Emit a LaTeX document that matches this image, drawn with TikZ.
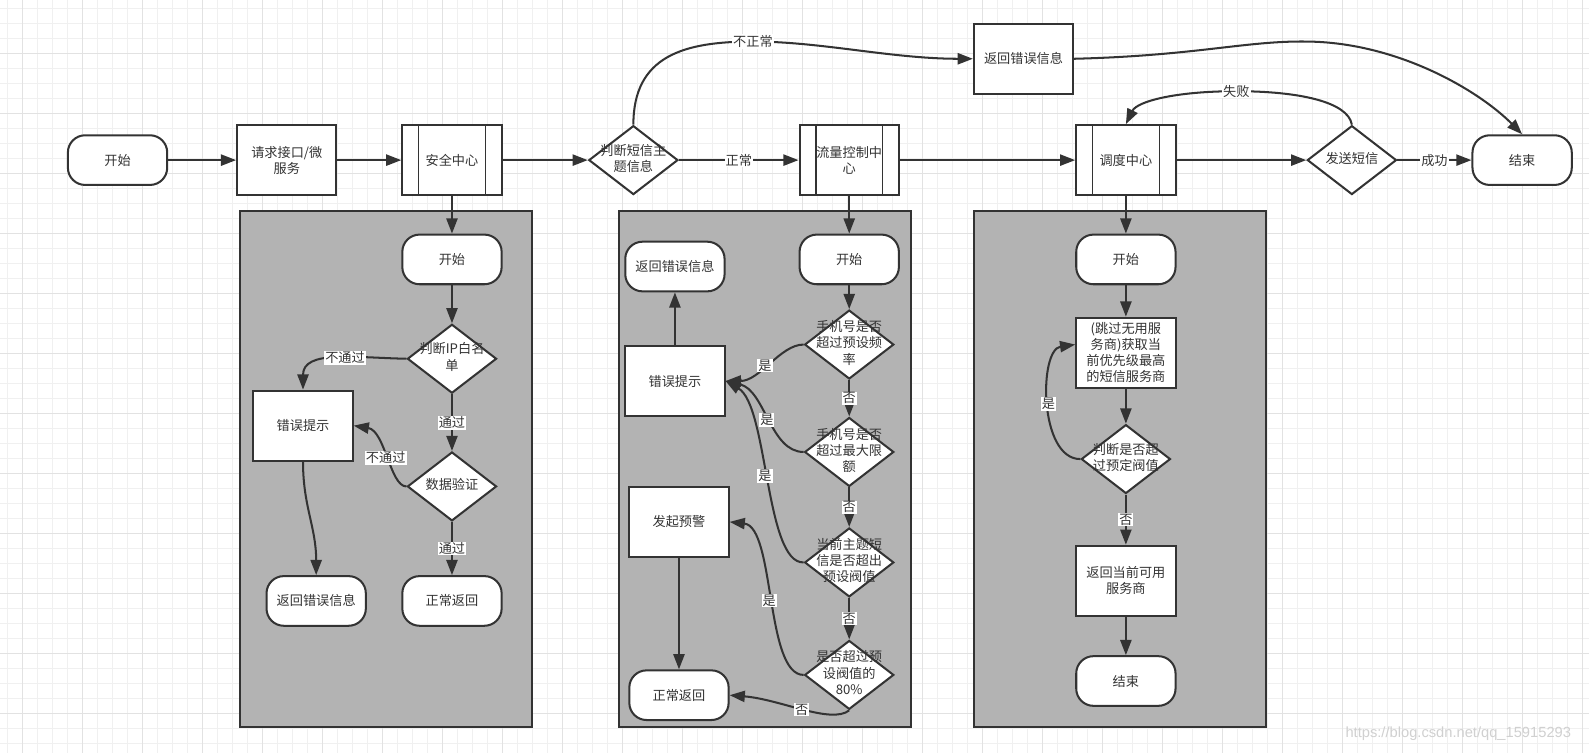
\documentclass[tikz,border=0pt]{standalone}
\usepackage{fontspec}
\setmainfont{Noto Sans CJK SC}
\newfontfamily\wmfont{Liberation Sans}
\usetikzlibrary{arrows.meta,shapes.geometric}
\definecolor{ink}{HTML}{333333}
\definecolor{panelgray}{HTML}{B3B3B3}
\definecolor{gridminor}{HTML}{F0F0F0}
\definecolor{gridmajor}{HTML}{E2E2E2}
\definecolor{wmgray}{HTML}{D0D0D0}
\newcommand{\dtext}[1]{\smash{\makebox[0pt]{\raisebox{-3pt}{\begin{tabular}{@{}c@{}}#1\end{tabular}}}}}

\begin{document}
\begin{tikzpicture}[
    x=1pt, y=-1pt, line width=2pt, text=ink,
    font=\fontsize{13}{16}\selectfont,
    term/.style={draw=ink, fill=white, rounded corners=17pt, minimum width=98pt, minimum height=49pt, align=center},
    box/.style={draw=ink, fill=white, minimum width=98pt, minimum height=69pt, align=center},
    sub/.style={box, path picture={\draw[ink, line width=1.4pt]
        ([xshift=16pt]path picture bounding box.north west) -- ([xshift=16pt]path picture bounding box.south west)
        ([xshift=-16pt]path picture bounding box.north east) -- ([xshift=-16pt]path picture bounding box.south east);}},
    dec/.style={draw=ink, fill=white, diamond, minimum width=88pt, minimum height=68pt, inner sep=0pt},
    panel/.style={draw=ink, fill=panelgray, minimum width=288pt, minimum height=509pt},
    arr/.style={draw=ink, -{Triangle[length=15pt,width=11pt]}},
    lbl/.style={fill=white, inner sep=1pt},
    gminor/.style={draw=gridminor, line width=0.8pt},
    gmajor/.style={draw=gridmajor, line width=0.8pt}
]
\fill[white] (0,0) rectangle (1568,743);
\useasboundingbox (0,0) rectangle (1568,743);
\foreach \k in {0,...,105} \draw[gminor] ({7.1+14.8*\k},0) -- ({7.1+14.8*\k},743);
\foreach \k in {0,...,49} \draw[gminor] (0,{8.0+14.8*\k}) -- (1568,{8.0+14.8*\k});
\foreach \k in {0,...,26} \draw[gmajor] ({21.9+59.2*\k},0) -- ({21.9+59.2*\k},743);
\foreach \k in {0,...,11} \draw[gmajor] (0,{52.4+59.2*\k}) -- (1568,{52.4+59.2*\k});

\node[panel] (p1) at (381,462.5) {};
\node[panel] (p2) at (755,462.5) {};
\node[panel] (p3) at (1105,462.5) {};

\node[term] (st) at (116,158) {开始};
\node[box] (req) at (283,158) {请求接口/微\\服务};
\node[sub] (sec) at (446,158) {安全中心};
\node[dec] (chkmsg) at (625,158) {\dtext{判断短信主\\题信息}};
\node[sub] (flow) at (838,158) {流量控制中\\心};
\node[box] (errtop) at (1010,58) {返回错误信息};
\node[sub] (sched) at (1111,158) {调度中心};
\node[dec] (send) at (1334,158) {\dtext{发送短信}};
\node[term] (fin) at (1502,158) {结束};

\node[term] (s1) at (446,256) {开始};
\node[dec] (ip) at (446,354) {\dtext{判断IP白名\\单}};
\node[box] (err1) at (299,420) {错误提示};
\node[dec] (dv) at (446,480) {\dtext{数据验证}};
\node[term] (ret1) at (312,593) {返回错误信息};
\node[term] (ok1) at (446,593) {正常返回};

\node[term] (s2) at (838,256) {开始};
\node[term] (ret2) at (666,263) {返回错误信息};
\node[dec] (fq) at (838,340) {\dtext{手机号是否\\超过预设频\\率}};
\node[box] (err2) at (666,376) {错误提示};
\node[dec] (lim) at (838,446) {\dtext{手机号是否\\超过最大限\\额}};
\node[box] (warn) at (670,515) {发起预警};
\node[dec] (thr) at (838,555) {\dtext{当前主题短\\信是否超出\\预设阀值}};
\node[dec] (pct) at (838,666) {\dtext{是否超过预\\设阀值的\\80\%}};
\node[term] (ok2) at (670,686) {正常返回};

\node[term] (s3) at (1111,256) {开始};
\node[box] (pick) at (1111,348) {(跳过无用服\\务商)获取当\\前优先级最高\\的短信服务商};
\node[dec] (over) at (1111,453) {\dtext{判断是否超\\过预定阀值}};
\node[box] (avail) at (1111,573) {返回当前可用\\服务商};
\node[term] (e3) at (1111,672) {结束};

\node[text=wmgray, font=\wmfont\fontsize{14.5}{16}\selectfont] (wm) at (1439,724) {https://blog.csdn.net/qq\_15915293};

\draw[arr] (st) -- (req);
\draw[arr] (req) -- (sec);
\draw[arr] (sec) -- (chkmsg);
\draw[arr] (chkmsg) -- node[lbl] {正常} (flow);
\draw[arr] (flow) -- (sched);
\draw[arr] (sched) -- (send);
\draw[arr] (send) -- node[lbl] {成功} (fin);
\draw[arr] (chkmsg.north) .. controls (625,55) and (675,41) .. (743,41) node[lbl] {不正常} .. controls (810,41) and (880,58) .. (errtop.west);
\draw[arr] (errtop.east) .. controls (1180,55) and (1230,40) .. (1290,41) .. controls (1380,42) and (1460,90) .. (fin.north);
\draw[arr] (send.north) .. controls (1330,100) and (1280,90) .. (1220,90) node[lbl] {失败} .. controls (1160,90) and (1122,100) .. (sched.north);

\draw[arr] (sec) -- (s1);
\draw[arr] (s1) -- (ip);
\draw[arr] (ip) -- node[lbl] {通过} (dv);
\draw[arr] (dv) -- node[lbl] {通过} (ok1);
\draw[arr] (ip.west) .. controls (350,353) and (299,345) .. (err1.north) node[lbl,pos=0.42] {不通过};
\draw[arr] (dv.west) .. controls (385,480) and (380,425) .. (err1.east) node[lbl,pos=0.5] {不通过};
\draw[arr] (err1.south) .. controls (299,500) and (312,520) .. (ret1.north);

\draw[arr] (flow) -- (s2);
\draw[arr] (s2) -- (fq);
\draw[arr] (fq) -- node[lbl] {否} (lim);
\draw[arr] (lim) -- node[lbl] {否} (thr);
\draw[arr] (thr) -- node[lbl] {否} (pct);
\draw[arr] (fq.west) .. controls (770,340) and (750,376) .. (err2.east) node[lbl,pos=0.55] {是};
\draw[arr] (lim.west) .. controls (760,446) and (755,385) .. (err2.east) node[lbl,pos=0.5] {是};
\draw[arr] (thr.west) .. controls (755,556) and (758,400) .. (err2.east) node[lbl,pos=0.52] {是};
\draw[arr] (err2) -- (ret2);
\draw[arr] (pct.west) .. controls (755,666) and (765,520) .. (warn.east) node[lbl,pos=0.5] {是};
\draw[arr] (pct.south) .. controls (820,715) and (770,690) .. (ok2.east) node[lbl,pos=0.5] {否};
\draw[arr] (warn) -- (ok2);

\draw[arr] (sched) -- (s3);
\draw[arr] (s3) -- (pick);
\draw[arr] (pick) -- (over);
\draw[arr] (over) -- node[lbl] {否} (avail);
\draw[arr] (avail) -- (e3);
\draw[arr] (over.west) .. controls (1025,453) and (1025,345) .. ([yshift=8pt]pick.west) node[lbl,pos=0.5] {是};
\end{tikzpicture}
\end{document}
